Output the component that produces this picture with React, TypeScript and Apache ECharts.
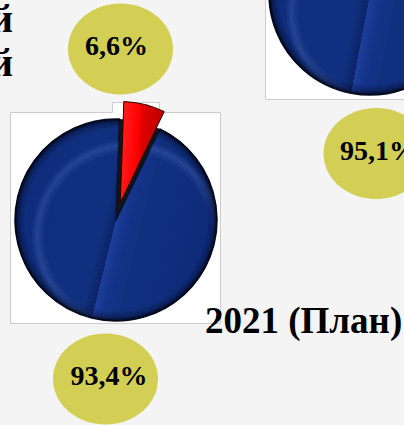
import React, { useEffect, useRef } from "react";
import * as echarts from "echarts";

// ---- data ----
const sliceNames = ["Доля", "Прочие"];
const leftPieValues = [6.6, 93.4];
const rightPieValues = [4.9, 95.1];
const titleText = "2021 (План)";
const cutLetters = ["й", "й"];

const fmt = (v: number) => v.toFixed(1).replace(".", ",") + "%";

const START = 88;
const SERIF = '"Liberation Serif", "Times New Roman", serif';

function blueGradient(values: number[]) {
  const total = values.reduce((a, b) => a + b, 0);
  const redSpan = (values[0] / total) * 360;
  const theta0 = 90 - START;
  const mid = theta0 + redSpan + (360 - redSpan) / 2;
  const r = (mid * Math.PI) / 180;
  const d = [Math.sin(r), -Math.cos(r)];
  const p = [d[1], -d[0]];
  return new echarts.graphic.LinearGradient(
    0.5 - 0.5 * p[0],
    0.5 - 0.5 * p[1],
    0.5 + 0.5 * p[0],
    0.5 + 0.5 * p[1],
    [
      { offset: 0, color: "#0f2c7c" },
      { offset: 0.44, color: "#10307f" },
      { offset: 0.5, color: "#0b2468" },
      { offset: 0.5, color: "#1d3e9b" },
      { offset: 0.55, color: "#15348b" },
      { offset: 0.63, color: "#10307f" },
      { offset: 1, color: "#0e2a79" },
    ]
  );
}

function redStyle() {
  return {
    color: new echarts.graphic.LinearGradient(0, 0, 1, 0.15, [
      { offset: 0, color: "#ff2424" },
      { offset: 0.45, color: "#ff0000" },
      { offset: 0.52, color: "#e00000" },
      { offset: 1, color: "#bb0000" },
    ]),
    borderColor: "#2a0000",
    borderWidth: 1,
  };
}

const common = {
  type: "pie",
  radius: 101,
  startAngle: START,
  clockwise: true,
  selectedMode: "single",
  selectedOffset: 18,
  silent: true,
  avoidLabelOverlap: false,
  label: { show: false },
  labelLine: { show: false },
  emphasis: { disabled: true },
};

function underSeries(center: number[], values: number[]) {
  return {
    ...common,
    center,
    selectedMode: false,
    z: 1,
    data: values.map((v, i) => ({
      name: sliceNames[i],
      value: v,
      itemStyle: { color: i === 0 ? "#151515" : "rgba(0,0,0,0)", borderWidth: 0 },
    })),
  };
}

function mainSeries(center: number[], values: number[]) {
  const blue = {
    color: blueGradient(values),
    borderColor: "#050f2a",
    borderWidth: 1.5,
  };
  return {
    ...common,
    center,
    z: 2,
    data: values.map((v, i) => {
      const st = i === 0 ? redStyle() : blue;
      return {
        name: sliceNames[i],
        value: v,
        selected: i === 0,
        itemStyle: st,
        select: { itemStyle: st },
      };
    }),
  };
}

function overlaySeries(center: number[], values: number[], grad: any, z: number) {
  return {
    ...common,
    center,
    z,
    data: values.map((v, i) => {
      const st =
        i === 0
          ? { color: "rgba(0,0,0,0)", borderWidth: 0 }
          : { color: grad, borderWidth: 0 };
      return {
        name: sliceNames[i],
        value: v,
        selected: i === 0,
        itemStyle: st,
        select: { itemStyle: st },
      };
    }),
  };
}

const rimGrad = () =>
  new echarts.graphic.RadialGradient(0.5, 0.5, 0.5, [
    { offset: 0, color: "rgba(0,0,0,0)" },
    { offset: 0.9, color: "rgba(0,0,0,0)" },
    { offset: 0.96, color: "rgba(0,0,25,0.3)" },
    { offset: 1, color: "rgba(0,0,0,0.85)" },
  ]);

const shineGrad = () =>
  new echarts.graphic.RadialGradient(0.56, 0.58, 0.5, [
    { offset: 0, color: "rgba(120,150,230,0)" },
    { offset: 0.82, color: "rgba(120,150,230,0)" },
    { offset: 0.9, color: "rgba(120,150,230,0.2)" },
    { offset: 0.96, color: "rgba(120,150,230,0)" },
    { offset: 1, color: "rgba(120,150,230,0)" },
  ]);

function label(text: string, x: number, y: number, size: number, align: string) {
  return {
    type: "text",
    z: 20,
    style: {
      text,
      x,
      y,
      fill: "#000000",
      font: `bold ${size}px ${SERIF}`,
      align,
      verticalAlign: "middle",
    },
  };
}

function bubble(cx: number, cy: number) {
  return {
    type: "ellipse",
    z: 15,
    shape: { cx, cy, rx: 52.5, ry: 45.5 },
    style: { fill: "#d3cf55" },
  };
}

export default function App() {
  const ref = useRef<HTMLDivElement>(null);

  useEffect(() => {
    if (!ref.current) return;
    const chart = echarts.init(ref.current, undefined, { renderer: "svg" });
    const L = [116, 220];
    const R = [370, -6];
    chart.setOption({
      animation: false,
      backgroundColor: "#f4f4f4",
      graphic: [
        {
          type: "polygon",
          z: 0,
          shape: {
            points: [
              [10.5, 112.5],
              [112.5, 112.5],
              [112.5, 102.5],
              [159.5, 102.5],
              [159.5, 112.5],
              [220.5, 112.5],
              [220.5, 323.5],
              [10.5, 323.5],
            ],
          },
          style: { fill: "#ffffff", stroke: "#cccccc", lineWidth: 1 },
        },
        {
          type: "rect",
          z: 0,
          shape: { x: 265.5, y: -5, width: 150, height: 104.5 },
          style: { fill: "#ffffff", stroke: "#cccccc", lineWidth: 1 },
        },
        bubble(120.5, 49),
        bubble(376, 153.5),
        bubble(105.5, 379),
        label(fmt(leftPieValues[0]), 116.5, 45, 28, "center"),
        label(fmt(rightPieValues[1]), 340, 150, 28, "left"),
        label(fmt(leftPieValues[1]), 109, 375, 28, "center"),
        label(titleText, 205, 320.5, 37, "left"),
        label(cutLetters[0], 13, 18.5, 40, "right"),
        label(cutLetters[1], 13, 62.5, 40, "right"),
      ],
      series: [
        underSeries(L, leftPieValues),
        mainSeries(L, leftPieValues),
        overlaySeries(L, leftPieValues, shineGrad(), 3),
        overlaySeries(L, leftPieValues, rimGrad(), 4),
        underSeries(R, rightPieValues),
        mainSeries(R, rightPieValues),
        overlaySeries(R, rightPieValues, shineGrad(), 3),
        overlaySeries(R, rightPieValues, rimGrad(), 4),
      ],
    });
    return () => chart.dispose();
  }, []);

  return (
    <div
      ref={ref}
      style={{ position: "absolute", left: 0, top: 0, width: 404, height: 425 }}
    />
  );
}
